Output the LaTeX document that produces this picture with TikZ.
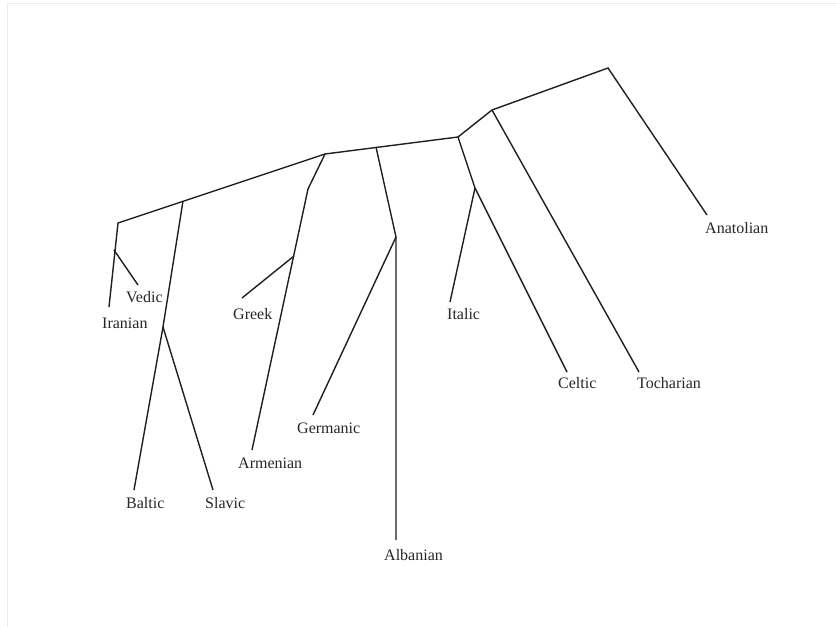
\documentclass[tikz,border=0pt]{standalone}
\usepackage{fontspec}
\setmainfont{Liberation Serif}
\begin{document}
\begin{tikzpicture}[x=1pt,y=-1pt,
  branch/.style={line width=1.4pt,draw=black!88},
  lbl/.style={anchor=base west,inner sep=0pt,font=\fontsize{16}{18}\selectfont,text=black!85},
  frame/.style={draw=black!8,line width=1pt}]
\useasboundingbox (0,0) rectangle (836,627);
\coordinate (f1) at (7,627);
\coordinate (f2) at (7,3);
\coordinate (f3) at (836,3);
\draw[frame] (f1) -- (f2) -- (f3);
% internal points
\coordinate (R) at (608,68);
\coordinate (A) at (492,110);
\coordinate (B) at (458,137);
\coordinate (C) at (475,188);
\coordinate (D) at (325,154);
\coordinate (E0) at (376,147);
\coordinate (E) at (396,237);
\coordinate (F) at (308,189);
\coordinate (GJ) at (294,256);
\coordinate (G) at (118,223);
\coordinate (BS) at (183,201);
\coordinate (H) at (163,327);
\coordinate (VJ) at (114,250);
% leaf ends
\coordinate (anatEnd) at (707,215);
\coordinate (tochEnd) at (639,372);
\coordinate (celtEnd) at (567,372);
\coordinate (italEnd) at (450,302);
\coordinate (albEnd) at (396,540);
\coordinate (germEnd) at (313,415);
\coordinate (armEnd) at (252,450);
\coordinate (greekEnd) at (242,298);
\coordinate (iranEnd) at (109,307);
\coordinate (vedEnd) at (138,285);
\coordinate (baltEnd) at (134,490);
\coordinate (slavEnd) at (213,490);
% labels
\node[lbl] (anat) at (705,233) {Anatolian};
\node[lbl] (toch) at (637,388) {Tocharian};
\node[lbl] (celt) at (558,388) {Celtic};
\node[lbl] (ital) at (447,319) {Italic};
\node[lbl] (alb) at (384,560) {Albanian};
\node[lbl] (germ) at (297,433) {Germanic};
\node[lbl] (arm) at (238,468) {Armenian};
\node[lbl] (greek) at (233,319) {Greek};
\node[lbl] (iran) at (102,328) {Iranian};
\node[lbl] (ved) at (126,302) {Vedic};
\node[lbl] (balt) at (126,508) {Baltic};
\node[lbl] (slav) at (205,508) {Slavic};
% branches
\draw[branch] (anatEnd) -- (R) -- (A) -- (B) -- (D) -- (G) -- (iranEnd);
\draw[branch] (A) -- (tochEnd);
\draw[branch] (B) -- (C) -- (italEnd);
\draw[branch] (C) -- (celtEnd);
\draw[branch] (E0) -- (E) -- (albEnd);
\draw[branch] (E) -- (germEnd);
\draw[branch] (D) -- (F) -- (armEnd);
\draw[branch] (GJ) -- (greekEnd);
\draw[branch] (BS) -- (H) -- (baltEnd);
\draw[branch] (H) -- (slavEnd);
\draw[branch] (VJ) -- (vedEnd);
\end{tikzpicture}
\end{document}
